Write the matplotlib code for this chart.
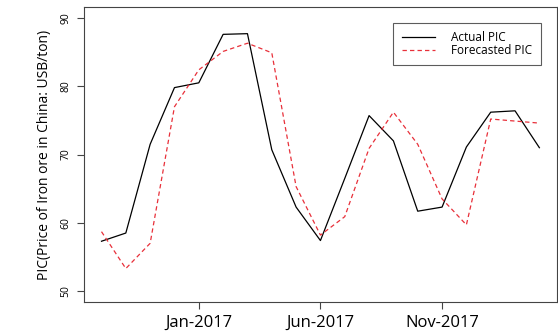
import matplotlib
matplotlib.use("Agg")
from matplotlib import pyplot as plt
import numpy as np

# monthly series, Sep-2016 .. Mar-2018
months = ["Sep-2016", "Oct-2016", "Nov-2016", "Dec-2016", "Jan-2017", "Feb-2017",
          "Mar-2017", "Apr-2017", "May-2017", "Jun-2017", "Jul-2017", "Aug-2017",
          "Sep-2017", "Oct-2017", "Nov-2017", "Dec-2017", "Jan-2018", "Feb-2018",
          "Mar-2018"]
actual_pic = [57.3, 58.5, 71.5, 79.8, 80.5, 87.6, 87.7, 70.7, 62.3, 57.4,
              66.5, 75.7, 72.0, 61.7, 62.3, 71.1, 76.2, 76.4, 71.0]
forecast_pic = [58.7, 53.3, 57.0, 77.0, 82.4, 85.1, 86.3, 84.9, 65.3, 58.2,
                60.9, 70.9, 76.2, 71.5, 63.5, 59.7, 75.2, 74.9, 74.6]
tick_months = ["Jan-2017", "Jun-2017", "Nov-2017"]
y_ticks = [50, 60, 70, 80, 90]

plt.rcParams["font.family"] = ["Open Sans", "DejaVu Sans"]

x = np.arange(len(months))

fig = plt.figure(figsize=(5.58, 3.35), dpi=100, facecolor="white")
ax = fig.add_axes([0.1505, 0.0985, 0.8475, 0.8805])

ax.plot(x, actual_pic, color="black", lw=0.9, label="Actual PIC")
ax.plot(x, forecast_pic, color="#e8303a", lw=0.9, ls=(0, (3.5, 2.5)),
        label="Forecasted PIC")

pad = 0.04 * (len(months) - 1)
ax.set_xlim(-pad, len(months) - 1 + pad)
ax.set_ylim(50 - 1.6, 90 + 1.6)

ax.set_xticks([months.index(m) for m in tick_months])
ax.set_xticklabels(tick_months, fontsize=12)
ax.set_yticks(y_ticks)
ax.set_yticklabels([str(v) for v in y_ticks], fontsize=7.5, rotation=90,
                   va="center")
ax.tick_params(axis="both", length=5, width=0.8, color="#444444")
ax.tick_params(axis="x", pad=4)
ax.tick_params(axis="y", pad=4)

for s in ax.spines.values():
    s.set_color("#444444")
    s.set_linewidth(0.8)

ax.set_ylabel("PIC(Price of Iron ore in China: USB/ton)", fontsize=10,
              labelpad=6)

leg = ax.legend(loc="upper right", bbox_to_anchor=(0.978, 0.966), fontsize=8.5,
                frameon=True, fancybox=False, edgecolor="#333333",
                handlelength=2.8, borderpad=0.7, labelspacing=0.0,
                handletextpad=1.4)
leg.get_frame().set_linewidth(0.8)

plt.savefig("out.png", dpi=100, facecolor="white")
